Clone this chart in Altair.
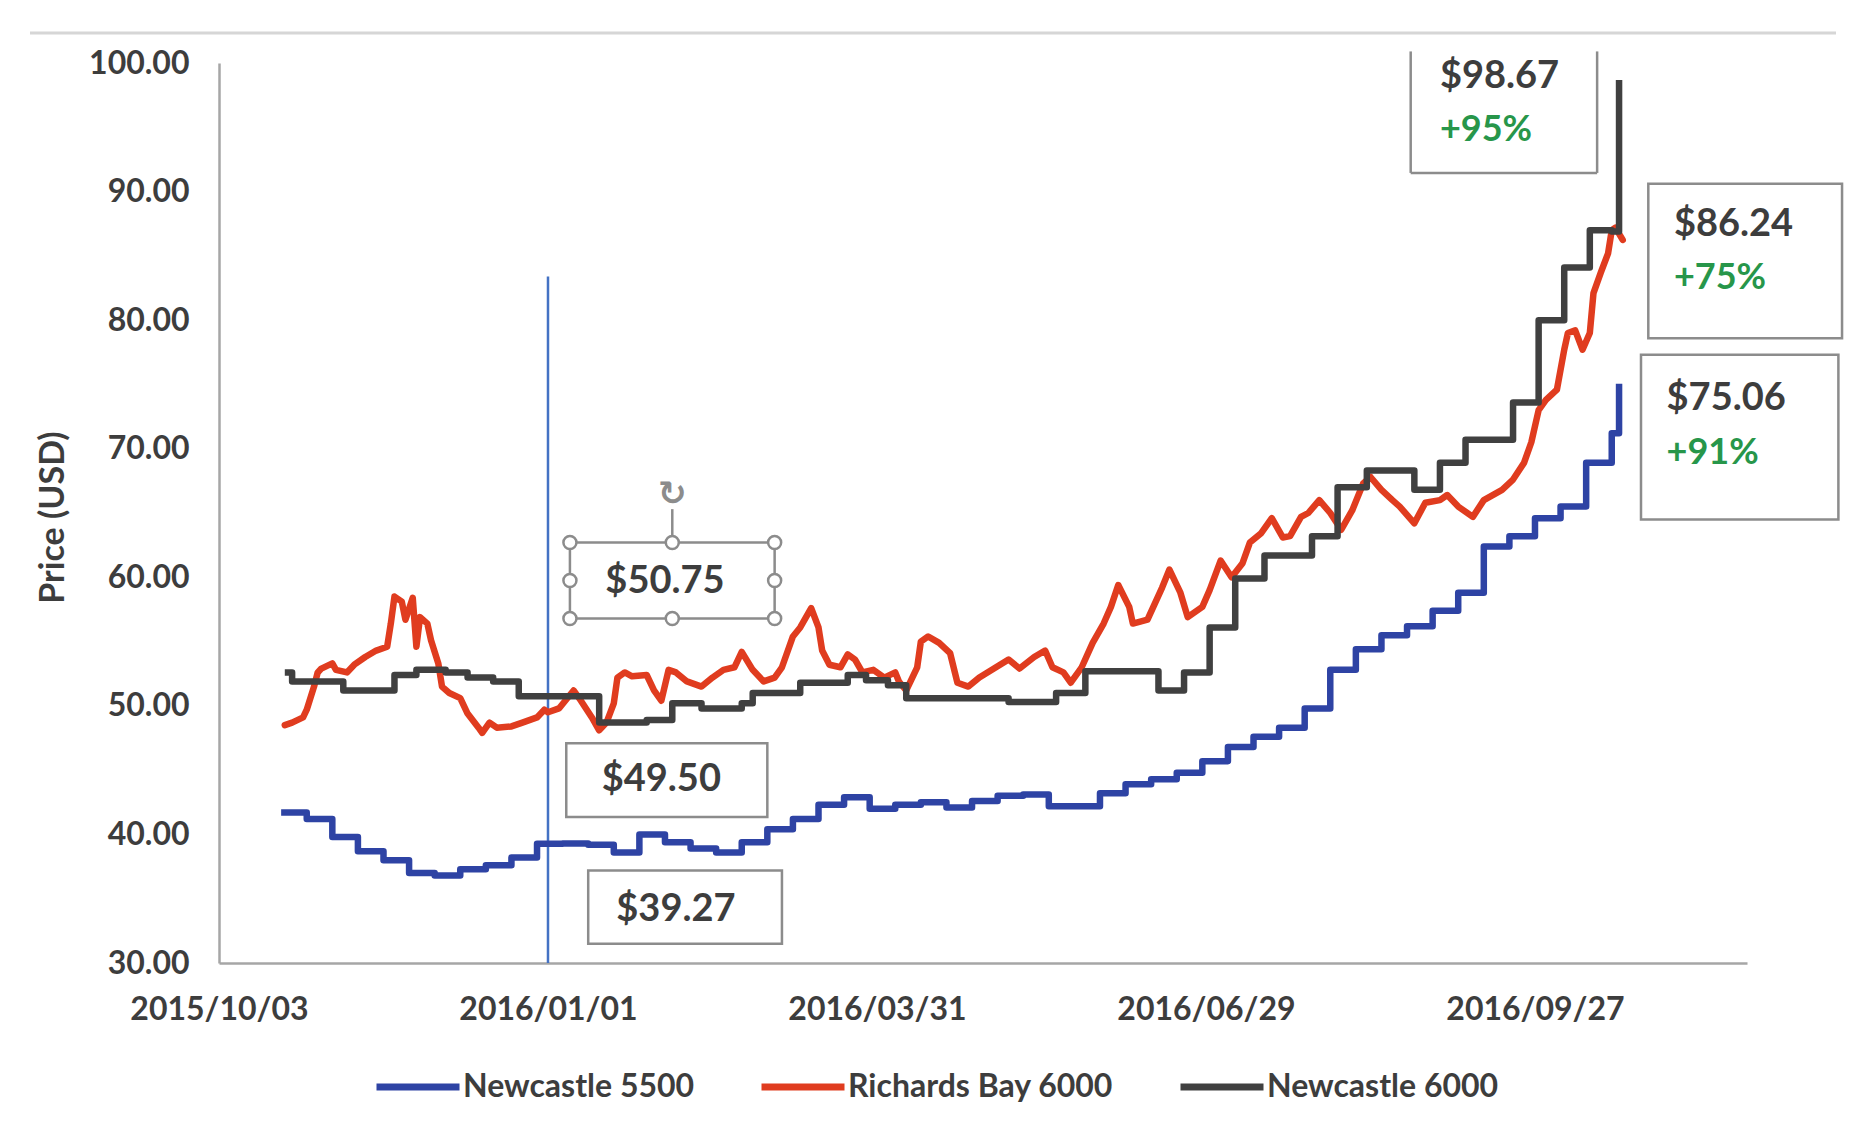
import altair as alt
import pandas as pd

# ---------------- data ----------------
SERIES = ["Newcastle 5500", "Richards Bay 6000", "Newcastle 6000"]
COLORS = ["#2e43a4", "#e03c1f", "#404040"]

blue_dates = [
    "2015-10-20", "2015-10-27", "2015-11-03", "2015-11-10", "2015-11-17", "2015-11-24",
    "2015-12-01", "2015-12-08", "2015-12-15", "2015-12-22", "2015-12-29", "2016-01-05",
    "2016-01-12", "2016-01-19", "2016-01-26", "2016-02-02", "2016-02-09", "2016-02-16",
    "2016-02-23", "2016-03-01", "2016-03-08", "2016-03-15", "2016-03-22", "2016-03-29",
    "2016-04-05", "2016-04-12", "2016-04-19", "2016-04-26", "2016-05-03", "2016-05-10",
    "2016-05-17", "2016-05-24", "2016-05-31", "2016-06-07", "2016-06-14", "2016-06-21",
    "2016-06-28", "2016-07-05", "2016-07-12", "2016-07-19", "2016-07-26", "2016-08-02",
    "2016-08-09", "2016-08-16", "2016-08-23", "2016-08-30", "2016-09-06", "2016-09-13",
    "2016-09-20", "2016-09-27", "2016-10-04", "2016-10-11", "2016-10-18", "2016-10-20",
]
blue_vals = [
    41.7, 41.2, 39.8, 38.7, 38.0, 37.0, 36.8, 37.3, 37.6, 38.2, 39.27, 39.3,
    39.2, 38.6, 40.0, 39.4, 38.9, 38.6, 39.4, 40.4, 41.2, 42.3, 42.9, 42.0,
    42.3, 42.5, 42.1, 42.6, 43.0, 43.1, 42.2, 42.2, 43.2, 43.9, 44.3, 44.8,
    45.7, 46.8, 47.6, 48.3, 49.8, 52.8, 54.4, 55.5, 56.2, 57.4, 58.8, 62.4,
    63.2, 64.6, 65.5, 68.9, 71.2, 75.06,
]

red_dates = [
    "2015-10-21", "2015-10-23", "2015-10-26", "2015-10-27", "2015-10-29", "2015-10-30",
    "2015-10-31", "2015-11-03", "2015-11-04", "2015-11-07", "2015-11-09", "2015-11-12",
    "2015-11-15", "2015-11-18", "2015-11-19", "2015-11-20", "2015-11-22", "2015-11-23",
    "2015-11-25", "2015-11-26", "2015-11-27", "2015-11-29", "2015-11-30", "2015-12-02",
    "2015-12-03", "2015-12-05", "2015-12-08", "2015-12-10", "2015-12-13", "2015-12-14",
    "2015-12-16", "2015-12-18", "2015-12-22", "2015-12-25", "2015-12-29", "2015-12-31",
    "2016-01-01", "2016-01-04", "2016-01-08", "2016-01-10", "2016-01-13", "2016-01-15",
    "2016-01-17", "2016-01-19", "2016-01-20", "2016-01-22", "2016-01-24", "2016-01-28",
    "2016-01-30", "2016-02-01", "2016-02-03", "2016-02-05", "2016-02-08", "2016-02-12",
    "2016-02-15", "2016-02-18", "2016-02-21", "2016-02-23", "2016-02-26", "2016-02-29",
    "2016-03-03", "2016-03-05", "2016-03-08", "2016-03-10", "2016-03-13", "2016-03-15",
    "2016-03-16", "2016-03-18", "2016-03-21", "2016-03-23", "2016-03-25", "2016-03-27",
    "2016-03-30", "2016-04-02", "2016-04-05", "2016-04-06", "2016-04-08", "2016-04-11",
    "2016-04-12", "2016-04-14", "2016-04-17", "2016-04-20", "2016-04-22", "2016-04-25",
    "2016-04-28", "2016-05-02", "2016-05-06", "2016-05-09", "2016-05-13", "2016-05-16",
    "2016-05-18", "2016-05-21", "2016-05-23", "2016-05-26", "2016-05-29", "2016-06-01",
    "2016-06-03", "2016-06-05", "2016-06-08", "2016-06-09", "2016-06-13", "2016-06-17",
    "2016-06-19", "2016-06-22", "2016-06-24", "2016-06-28", "2016-06-30", "2016-07-03",
    "2016-07-06", "2016-07-09", "2016-07-11", "2016-07-14", "2016-07-17", "2016-07-20",
    "2016-07-22", "2016-07-25", "2016-07-27", "2016-07-30", "2016-08-02", "2016-08-05",
    "2016-08-08", "2016-08-11", "2016-08-13", "2016-08-16", "2016-08-19", "2016-08-21",
    "2016-08-25", "2016-08-28", "2016-09-01", "2016-09-03", "2016-09-06", "2016-09-10",
    "2016-09-13", "2016-09-18", "2016-09-21", "2016-09-24", "2016-09-26", "2016-09-28",
    "2016-09-30", "2016-10-03", "2016-10-05", "2016-10-06", "2016-10-08", "2016-10-10",
    "2016-10-12", "2016-10-13", "2016-10-15", "2016-10-17", "2016-10-18", "2016-10-19",
    "2016-10-21",
]
red_vals = [
    48.5, 48.7, 49.1, 49.7, 51.5, 52.6,
    52.9, 53.3, 52.8, 52.6, 53.2, 53.8,
    54.3, 54.6, 56.4, 58.5, 58.1, 56.7,
    58.4, 54.6, 56.9, 56.4, 55.1, 53.3,
    51.5, 51.0, 50.6, 49.4, 48.3, 47.9,
    48.7, 48.3, 48.4, 48.7, 49.1, 49.7,
    49.5, 49.8, 51.2, 50.4, 49.1, 48.1,
    48.7, 50.2, 52.2, 52.6, 52.3, 52.4,
    51.2, 50.4, 52.8, 52.6, 51.9, 51.5,
    52.2, 52.8, 53.0, 54.2, 52.8, 51.9,
    52.2, 53.0, 55.4, 56.1, 57.6, 56.1,
    54.3, 53.2, 53.0, 54.0, 53.6, 52.6,
    52.8, 52.2, 52.6, 51.9, 51.2, 53.0,
    55.0, 55.4, 54.9, 54.1, 51.8, 51.5,
    52.2, 52.9, 53.6, 52.9, 53.8, 54.3,
    53.0, 52.6, 51.8, 53.0, 54.9, 56.4,
    57.7, 59.4, 57.7, 56.4, 56.7, 59.2,
    60.6, 58.8, 56.9, 57.7, 59.0, 61.3,
    60.0, 61.1, 62.7, 63.4, 64.6, 63.1,
    63.2, 64.7, 65.0, 66.0, 65.0, 63.7,
    65.2, 67.3, 67.8, 66.8, 66.0, 65.5,
    64.2, 65.8, 66.0, 66.4, 65.5, 64.7,
    66.0, 66.8, 67.6, 68.9, 70.5, 73.0,
    73.8, 74.6, 77.7, 79.0, 79.2, 77.7,
    79.0, 82.1, 83.7, 85.2, 87.0, 87.2,
    86.24,
]

black_dates = [
    "2015-10-21", "2015-10-23", "2015-11-06", "2015-11-20", "2015-11-26", "2015-12-04",
    "2015-12-10", "2015-12-17", "2015-12-24", "2016-01-15", "2016-01-28", "2016-02-04",
    "2016-02-12", "2016-02-23", "2016-02-26", "2016-03-10", "2016-03-23", "2016-03-28",
    "2016-04-03", "2016-04-08", "2016-05-06", "2016-05-19", "2016-05-27", "2016-06-16",
    "2016-06-23", "2016-06-30", "2016-07-07", "2016-07-15", "2016-07-28", "2016-08-04",
    "2016-08-12", "2016-08-25", "2016-09-01", "2016-09-08", "2016-09-21", "2016-09-28",
    "2016-10-05", "2016-10-12", "2016-10-18", "2016-10-20",
]
black_vals = [
    52.6, 51.9, 51.2, 52.4, 52.8, 52.6,
    52.2, 51.9, 50.75, 48.7, 48.9, 50.2,
    49.8, 50.2, 51.0, 51.8, 52.4, 52.0,
    51.6, 50.6, 50.3, 51.0, 52.7, 51.2,
    52.6, 56.1, 59.9, 61.7, 63.2, 67.0,
    68.3, 66.8, 68.9, 70.7, 73.6, 80.0,
    84.1, 87.0, 86.9, 98.67,
]

tick_dates = ["2015-10-03", "2016-01-01", "2016-03-31", "2016-06-29", "2016-09-27"]
x_domain = ["2015-10-03", "2016-11-24"]
y_ticks = [30, 40, 50, 60, 70, 80, 90, 100]

# reference date line (2016/01/01)
vline_date = ["2016-01-01"]
vline_low = [30.0]
vline_high = [83.4]

# annotation text boxes (date-left, date-right, value-low, value-high)
box_d1 = ["2016-01-07", "2016-01-06", "2016-01-12", "2016-10-28", "2016-10-26"]
box_d2 = ["2016-03-03", "2016-03-01", "2016-03-05", "2016-12-20", "2016-12-19"]
box_v1 = [56.8, 41.35, 31.5, 78.6, 64.5]
box_v2 = [62.7, 47.1, 37.2, 90.6, 77.3]

# open-topped box around $98.67
top_box_d = ["2016-08-24", "2016-10-14"]
top_box_v = [91.45, 100.9]

# labels
center_labels = ["$50.75", "$49.50", "$39.27"]
center_dates = ["2016-02-02", "2016-02-01", "2016-02-05"]
center_vals = [59.6, 44.2, 34.1]

price_labels = ["$98.67", "$86.24", "$75.06"]
pct_labels = ["+95%", "+75%", "+91%"]
right_dates = ["2016-09-01", "2016-11-04", "2016-11-02"]
price_vals = [98.9, 87.4, 73.9]
pct_vals = [94.8, 83.3, 69.7]

# selection handles of the $50.75 text box
handle_dates = ["2016-01-07", "2016-02-04", "2016-03-03",
                "2016-01-07", "2016-03-03",
                "2016-01-07", "2016-02-04", "2016-03-03"]
handle_vals = [62.7, 62.7, 62.7, 59.75, 59.75, 56.8, 56.8, 56.8]
rot_date = ["2016-02-04"]
rot_stem = [62.7, 65.3]
rot_val = [66.4]


# ---------------- chart ----------------
def dt(s):
    y, m, d = (int(p) for p in s.split("-"))
    return alt.DateTime(year=y, month=m, date=d, utc=True)


FONT = "Lato"
TXT = "#3d3d3d"

xscale = alt.Scale(type="utc", domain=[dt(s) for s in x_domain])
yscale = alt.Scale(domain=[30, 100], nice=False, zero=False)

X = alt.X(
    "date:T", scale=xscale,
    axis=alt.Axis(values=[dt(s) for s in tick_dates],
                  labelExpr="utcFormat(datum.value, '%Y/%m/%d')",
                  title=None, labelFlush=False, labelOverlap=False, labelPadding=31,
                  tickSize=0, ticks=False),
)
Y = alt.Y(
    "value:Q", scale=yscale,
    axis=alt.Axis(values=y_ticks, format=".2f", title="Price (USD)", labelPadding=30,
                  tickSize=0, ticks=False, titleAngle=270, titleX=-166, titleY=454,
                  titleAlign="center", titleBaseline="middle"),
)
C = alt.Color(
    "series:N", scale=alt.Scale(domain=SERIES, range=COLORS),
    legend=alt.Legend(orient="none", legendX=154, legendY=979, direction="horizontal",
                      title=None, symbolType="stroke", symbolSize=6889, symbolStrokeWidth=7,
                      labelFont=FONT, labelFontWeight="bold", labelFontSize=32,
                      labelColor=TXT, labelLimit=500, columnPadding=52, labelOffset=0),
)

blue_df = pd.DataFrame({"date": blue_dates, "value": blue_vals, "series": SERIES[0]})
red_df = pd.DataFrame({"date": red_dates, "value": red_vals, "series": SERIES[1]})
black_df = pd.DataFrame({"date": black_dates, "value": black_vals, "series": SERIES[2]})

blue = alt.Chart(blue_df).mark_line(interpolate="step-after", strokeWidth=6.5,
                                    strokeJoin="round").encode(x=X, y=Y, color=C)
red = alt.Chart(red_df).mark_line(strokeWidth=6.5, strokeJoin="round",
                                  strokeCap="round").encode(x=X, y=Y, color=C)
black = alt.Chart(black_df).mark_line(interpolate="step-after", strokeWidth=6.5,
                                      strokeJoin="round").encode(x=X, y=Y, color=C)

vline_df = pd.DataFrame({"date": vline_date, "value": vline_low, "value2": vline_high})
vline = alt.Chart(vline_df).mark_rule(color="#4472c4", strokeWidth=2.5).encode(
    x=X, y=Y, y2="value2:Q")

box_df = pd.DataFrame({"date": box_d1, "date2": box_d2, "value": box_v1, "value2": box_v2})
boxes = alt.Chart(box_df).mark_rect(fillOpacity=0, stroke="#8c8c8c", strokeWidth=2.5).encode(
    x=X, x2="date2:T", y=Y, y2="value2:Q")

tb_sides = pd.DataFrame({"date": top_box_d, "value": [top_box_v[0]] * 2,
                         "value2": [top_box_v[1]] * 2})
tb_left_right = alt.Chart(tb_sides).mark_rule(color="#8c8c8c", strokeWidth=2.5).encode(
    x=X, y=Y, y2="value2:Q")
tb_bottom_df = pd.DataFrame({"date": [top_box_d[0]], "date2": [top_box_d[1]],
                             "value": [top_box_v[0]]})
tb_bottom = alt.Chart(tb_bottom_df).mark_rule(color="#8c8c8c", strokeWidth=2.5).encode(
    x=X, x2="date2:T", y=Y)

center_df = pd.DataFrame({"date": center_dates, "value": center_vals, "label": center_labels})
center_txt = alt.Chart(center_df).mark_text(
    font=FONT, fontWeight="bold", fontSize=38, color=TXT, align="center",
    baseline="middle").encode(x=X, y=Y, text="label:N")

price_df = pd.DataFrame({"date": right_dates, "value": price_vals, "label": price_labels})
price_txt = alt.Chart(price_df).mark_text(
    font=FONT, fontWeight="bold", fontSize=38, color=TXT, align="left",
    baseline="middle").encode(x=X, y=Y, text="label:N")

pct_df = pd.DataFrame({"date": right_dates, "value": pct_vals, "label": pct_labels})
pct_txt = alt.Chart(pct_df).mark_text(
    font=FONT, fontWeight="bold", fontSize=36, color="#27964a", align="left",
    baseline="middle").encode(x=X, y=Y, text="label:N")

stem_df = pd.DataFrame({"date": rot_date, "value": [rot_stem[0]], "value2": [rot_stem[1]]})
stem = alt.Chart(stem_df).mark_rule(color="#8c8c8c", strokeWidth=2.5).encode(
    x=X, y=Y, y2="value2:Q")
rot_df = pd.DataFrame({"date": rot_date, "value": rot_val, "label": ["\u21bb"]})
rot = alt.Chart(rot_df).mark_text(font="DejaVu Sans", fontSize=34, fontWeight="bold",
                                  color="#8c8c8c", align="center", baseline="middle").encode(
    x=X, y=Y, text="label:N")

handle_df = pd.DataFrame({"date": handle_dates, "value": handle_vals})
handles = alt.Chart(handle_df).mark_point(
    shape="circle", size=170, filled=True, fill="white", stroke="#8c8c8c",
    strokeWidth=2.5, opacity=1).encode(x=X, y=Y)

frame_line = alt.Chart(pd.DataFrame({"k": [0]})).mark_rule(
    color="#d6d6d6", strokeWidth=3).encode(
    x=alt.value(-189), x2=alt.value(1617), y=alt.value(-30))

chart = alt.layer(
    frame_line, vline, blue, red, black, boxes, tb_left_right, tb_bottom,
    stem, rot, handles, center_txt, price_txt, pct_txt,
).properties(
    width=1528, height=900,
    padding={"left": 211, "top": 55, "right": 102, "bottom": 170},
    autosize=alt.AutoSizeParams(type="none"),
    background="white",
).configure_view(stroke=None).configure_axis(
    domainColor="#a6a6a6", domainWidth=2.5, grid=False,
    labelFont=FONT, labelFontWeight="bold", labelFontSize=32, labelColor=TXT,
    titleFont=FONT, titleFontWeight="bold", titleFontSize=34, titleColor=TXT,
)

chart.save("out.html", embed_options={"renderer": "svg", "actions": False})
